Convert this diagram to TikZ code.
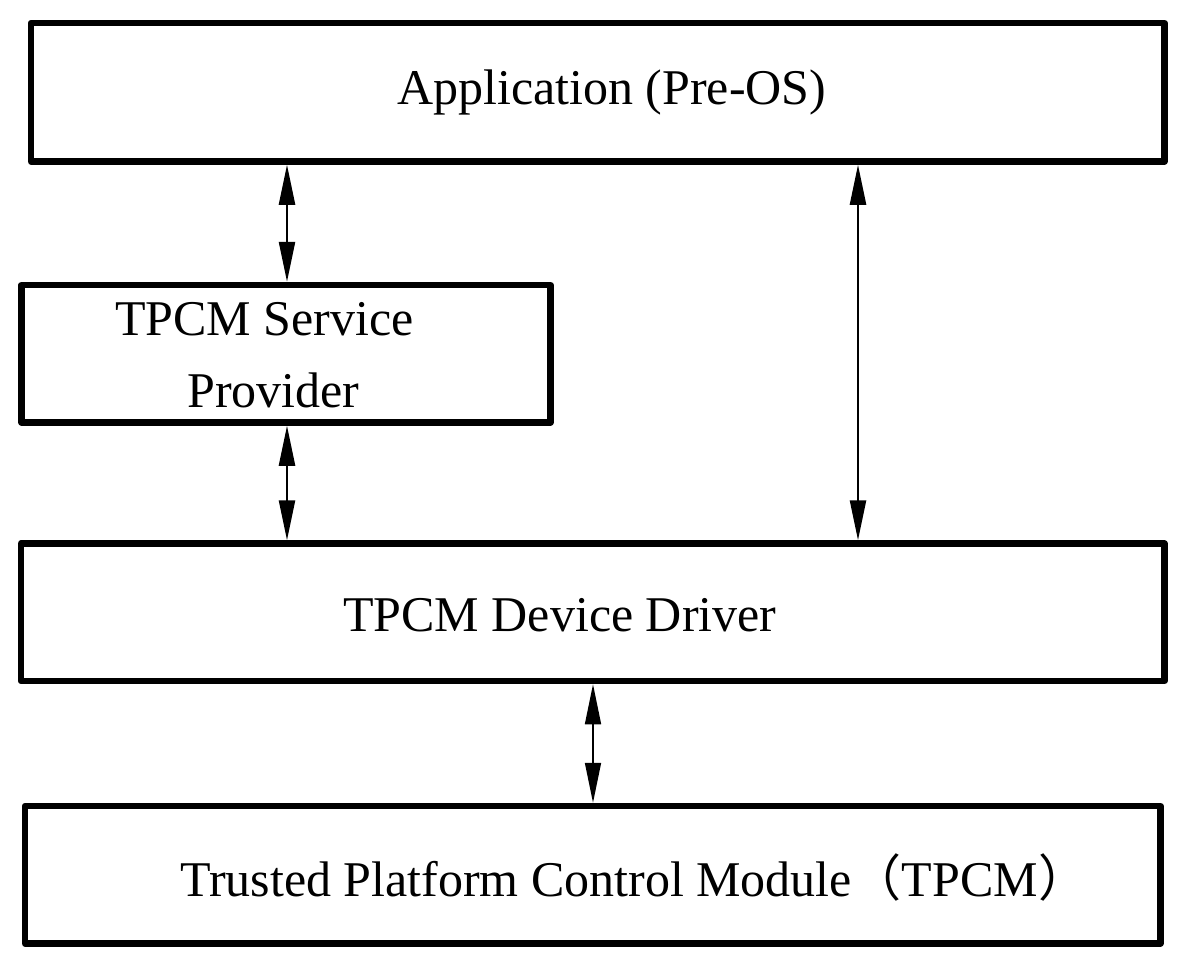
\documentclass[tikz,border=0pt]{standalone}
\usepackage{fontspec}
\setmainfont{Liberation Serif}
\newfontfamily\cjk{Noto Sans CJK SC}
\usetikzlibrary{arrows.meta}
\begin{document}
\begin{tikzpicture}[x=1pt,y=-1pt,
  box/.style={draw, line width=6.5pt, line join=round, inner sep=0pt},
  lbl/.style={anchor=base west, inner sep=0pt, font=\fontsize{50}{60}\selectfont},
  dbl/.style={{Triangle[length=40pt,width=16pt]}-{Triangle[length=40pt,width=16pt]}, line width=2.4pt},
  dblthin/.style={dbl, line width=1.6pt}]
\useasboundingbox (0,0) rectangle (1184,980);
\node[box, minimum width=1133.5pt, minimum height=138.5pt] (b1) at (597.75,92.25) {};
\node[box, minimum width=529pt, minimum height=137.5pt] (b2) at (286,353.75) {};
\node[box, minimum width=1143.5pt, minimum height=137.5pt] (b3) at (592.75,612.25) {};
\node[box, minimum width=1135.5pt, minimum height=137.5pt] (b4) at (592.75,874.75) {};
\node[lbl] (t1) at (397,104) {Application (Pre-OS)};
\node[lbl] (t2a) at (115,335) {TPCM Service};
\node[lbl] (t2b) at (187,407) {Provider};
\node[lbl] (t3) at (343,631) {TPCM Device Driver};
\node[lbl] (t4) at (180,896) {Trusted Platform Control Module{\cjk （}TPCM{\cjk ）}};
\coordinate (xa) at (287,0);
\coordinate (xb) at (858,0);
\coordinate (xc) at (593,0);
\draw[dbl] (b1.south -| xa) -- (b2.north -| xa);
\draw[dbl] (b2.south -| xa) -- (b3.north -| xa);
\draw[dbl] (b1.south -| xb) -- (b3.north -| xb);
\draw[dblthin] (b3.south -| xc) -- (b4.north -| xc);
\end{tikzpicture}
\end{document}
